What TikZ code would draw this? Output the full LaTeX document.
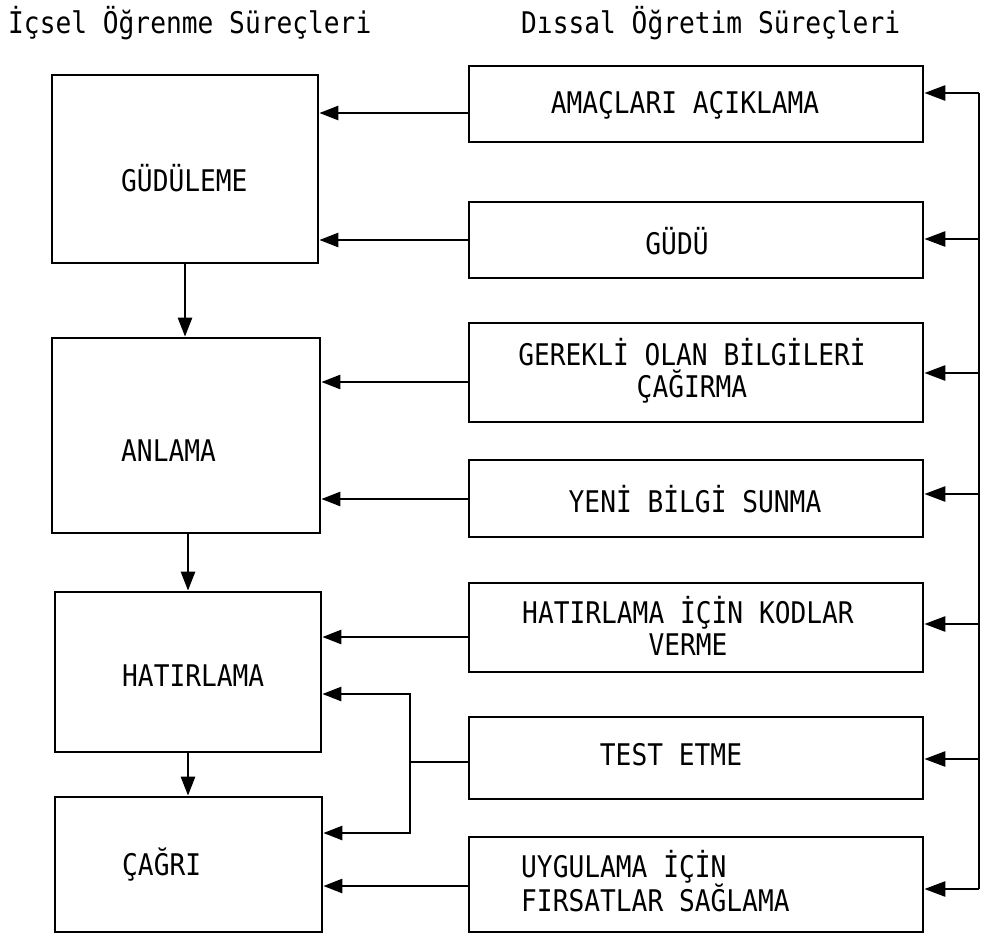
\documentclass[tikz,border=0pt]{standalone}
\usepackage{fontspec}
\newfontfamily\printfont[FakeStretch=0.88]{DejaVu Sans Mono}
\usetikzlibrary{arrows.meta}
\begin{document}
\begin{tikzpicture}[x=1pt,y=-1pt,
  box/.style={draw, line width=2.7pt, rectangle, inner sep=0pt},
  txt/.style={font=\printfont\fontsize{29.8}{32}\selectfont, inner sep=0pt},
  wire/.style={line width=2.6pt, line join=miter},
  arr/.style={wire, -{Triangle[length=19pt,width=14pt]}},
  rarr/.style={wire, -{Triangle[length=21pt,width=15pt]}}]
\useasboundingbox (0,0) rectangle (987,934);

% column headings
\node[txt, anchor=base west] (hl) at (8,34) {İçsel Öğrenme Süreçleri};
\node[txt, anchor=base west] (hr) at (521,34) {Dıssal Öğretim Süreçleri};

% internal learning processes
\node[box, minimum width=266pt, minimum height=188pt] (gud) at (185,169) {};
\node[box, minimum width=268pt, minimum height=195pt] (anl) at (186,435.5) {};
\node[box, minimum width=266pt, minimum height=160pt] (hat) at (188,672) {};
\node[box, minimum width=267pt, minimum height=135pt] (cag) at (188.5,864.5) {};
\node[txt, anchor=base west] (tgud) at (121,191) {GÜDÜLEME};
\node[txt, anchor=base west] (tanl) at (121,461) {ANLAMA};
\node[txt, anchor=base west] (that) at (122,686) {HATIRLAMA};
\node[txt, anchor=base west] (tcag) at (122,875) {ÇAĞRI};

% external instruction processes
\node[box, minimum width=454pt, minimum height=76pt] (r1) at (696,104) {};
\node[box, minimum width=454pt, minimum height=76pt] (r2) at (696,240) {};
\node[box, minimum width=454pt, minimum height=99pt] (r3) at (696,372.5) {};
\node[box, minimum width=454pt, minimum height=77pt] (r4) at (696,498.5) {};
\node[box, minimum width=454pt, minimum height=89pt] (r5) at (696,627.5) {};
\node[box, minimum width=454pt, minimum height=82pt] (r6) at (696,758) {};
\node[box, minimum width=454pt, minimum height=95pt] (r7) at (696,884.5) {};
\node[txt, anchor=base] (t1) at (685,113) {AMAÇLARI AÇIKLAMA};
\node[txt, anchor=base] (t2) at (677,254) {GÜDÜ};
\node[txt, align=center] (t3) at (692,371) {GEREKLİ OLAN BİLGİLERİ\\ÇAĞIRMA};
\node[txt, anchor=base] (t4) at (695,512) {YENİ BİLGİ SUNMA};
\node[txt, align=center] (t5) at (688,626) {HATIRLAMA İÇİN KODLAR\\VERME};
\node[txt, anchor=base] (t6) at (671,765) {TEST ETME};
\node[txt, align=left, anchor=west] (t7) at (521,881) {UYGULAMA İÇİN\\FIRSATLAR SAĞLAMA};

% sequence of internal processes
\draw[arr] (gud.south) -- (gud.south |- anl.north);
\draw[arr] (hat.north |- anl.south) -- (hat.north);
\draw[arr] (hat.south) -- (hat.south |- cag.north);

% each instruction event feeds a learning process
\draw[arr] (r1.west |- 0,113) -- (gud.east |- 0,113);
\draw[arr] (r2.west |- 0,240) -- (gud.east |- 0,240);
\draw[arr] (r3.west |- 0,382) -- (anl.east |- 0,382);
\draw[arr] (r4.west |- 0,499) -- (anl.east |- 0,499);
\draw[arr] (r5.west |- 0,637) -- (hat.east |- 0,637);
\coordinate (tj) at (410,762);
\coordinate (tju) at (410,694);
\coordinate (tjd) at (410,833);
\draw[wire] (r6.west |- tj) -- (tj);
\draw[arr] (tj) -- (tju) -- (hat.east |- tju);
\draw[arr] (tj) -- (tjd) -- (cag.east |- tjd);
\draw[arr] (r7.west |- 0,886) -- (cag.east |- 0,886);

% distribution bus on the right
\coordinate (b1) at (979,93);
\coordinate (b2) at (979,239);
\coordinate (b3) at (979,373);
\coordinate (b4) at (979,494);
\coordinate (b5) at (979,624);
\coordinate (b6) at (979,759);
\coordinate (b7) at (979,889);
\draw[wire] (b1) -- (b7);
\draw[rarr] (b1) -- (r1.east |- b1);
\draw[rarr] (b2) -- (r2.east |- b2);
\draw[rarr] (b3) -- (r3.east |- b3);
\draw[rarr] (b4) -- (r4.east |- b4);
\draw[rarr] (b5) -- (r5.east |- b5);
\draw[rarr] (b6) -- (r6.east |- b6);
\draw[rarr] (b7) -- (r7.east |- b7);
\end{tikzpicture}
\end{document}
